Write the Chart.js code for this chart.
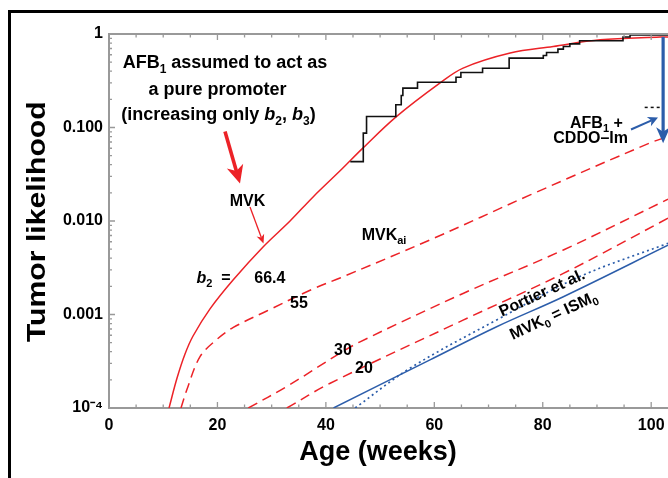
<!DOCTYPE html>
<html><head><meta charset="utf-8">
<script src="https://cdn.jsdelivr.net/npm/chart.js@4.4.1/dist/chart.umd.min.js"></script>
<style>
html,body{margin:0;padding:0;background:#fff;overflow:hidden;}
#wrap{position:relative;width:668px;height:478px;overflow:hidden;}
#frame{position:absolute;left:8px;top:10px;width:720px;height:520px;border-left:3px solid #000;border-top:3px solid #000;pointer-events:none;}
canvas{position:absolute;left:0;top:0;}
</style></head><body>
<div id="wrap"><canvas id="c" width="668" height="478" style="width:668px;height:478px"></canvas><div id="frame"></div></div>
<script>
const FONT = '"Liberation Sans", Arial, Helvetica, sans-serif';
const RED = '#ec2227';
const BLUE = '#2c5daa';

// axis ticks
const xTickValues = [0, 20, 40, 60, 80, 100];
const xTickLabels = ['0', '20', '40', '60', '80', '100'];
const yTickValues = [1e-4, 1e-3, 1e-2, 1e-1, 1];
const yTickLabels = ['10\u207B\u2074', '0.001', '0.010', '0.100', '1'];
const X_MIN = 0, X_MAX = 103.1;

// observed tumor incidence (step curve)
const kmAge  = [44.5, 46.9, 47.5, 52.9, 53.9, 54.2, 56.9, 64.0, 64.9, 68.9, 73.8, 80.1, 80.7, 82.8, 83.8, 85.0, 86.8, 94.8, 96.1, 103.1];
const kmRisk = [0.0432, 0.0871, 0.131, 0.175, 0.220, 0.264, 0.305, 0.345, 0.387, 0.431, 0.552, 0.589, 0.634, 0.689, 0.735, 0.785, 0.846, 0.93, 0.975, 0.975];

// MVK, b2 = 66.4 (solid red)
const mvkAge  = [11.07, 12.55, 14.02, 15.5, 18.63, 22.88, 28.41, 33.39, 37.64, 42.62, 46.86, 52.95, 61.07, 65.31, 73.99, 81.92, 90.59, 101.66, 103.1];
const mvkRisk = [1.0e-4, 2.09e-4, 3.78e-4, 5.89e-4, 1.15e-3, 2.34e-3, 5.28e-3, 0.0100, 0.0181, 0.0344, 0.0605, 0.130, 0.300, 0.432, 0.625, 0.735, 0.867, 0.927, 0.93];

// MVK_ai, b2 = 55 (dashed red)
const b55Age  = [13.28, 14.34, 16.79, 19.87, 22.93, 29.1, 37.64, 42.62, 59.23, 77.68, 99.8, 103.1];
const b55Risk = [1.0e-4, 1.56e-4, 3.54e-4, 5.41e-4, 7.27e-4, 1.09e-3, 1.88e-3, 2.46e-3, 6.28e-3, 0.019, 0.0685, 0.080];

// b2 = 30 (dashed red)
const b30Age  = [25.7, 32.8, 42.6, 46.3, 65.4, 83.8, 103.1];
const b30Risk = [1.0e-4, 1.7e-4, 3.85e-4, 5.1e-4, 1.69e-3, 4.9e-3, 0.0171];

// b2 = 20 (dashed red)
const b20Age  = [32.8, 40.8, 65.3, 83.8, 103.1];
const b20Risk = [1.0e-4, 1.84e-4, 8.7e-4, 2.75e-3, 0.0107];

// MVK0 = ISM0 (solid blue)
const mvk0Age  = [41.4, 59.2, 71.5, 83.8, 103.1];
const mvk0Risk = [1.0e-4, 3.27e-4, 7.4e-4, 1.55e-3, 5.5e-3];

// Portier et al. (dotted blue)
const portAge  = [45.4, 55.5, 71.5, 86.8, 103.1];
const portRisk = [1.0e-4, 2.66e-4, 8.75e-4, 2.54e-3, 5.78e-3];

// AFB1 + CDDO-Im level (dotted black) and drop arrow
const cddoAge  = [98.8, 102.2];
const cddoRisk = [0.164, 0.164];
const dropAge = 102.2, dropFrom = 0.93, dropTo = 0.068;

const pts = (xs, ys) => xs.map((x, i) => ({x: x, y: ys[i]}));

function rich(ctx, segs, x, y, fs, align) {
  const fontOf = s => `${s.i ? 'italic ' : ''}bold ${s.s ? Math.round(fs * 0.68) : fs}px ${FONT}`;
  let w = 0;
  segs.forEach(s => { ctx.font = fontOf(s); s.w = ctx.measureText(s.t).width; w += s.w; });
  let cx = align === 'center' ? x - w / 2 : (align === 'right' ? x - w : x);
  ctx.textAlign = 'left'; ctx.textBaseline = 'alphabetic';
  segs.forEach(s => { ctx.font = fontOf(s); ctx.fillText(s.t, cx, y + (s.s ? fs * 0.25 : 0)); cx += s.w; });
}

function arrow(ctx, x1, y1, x2, y2, color, lw, hl, hw) {
  const a = Math.atan2(y2 - y1, x2 - x1);
  ctx.save();
  ctx.strokeStyle = color; ctx.fillStyle = color; ctx.lineWidth = lw; ctx.lineCap = 'butt';
  ctx.beginPath(); ctx.moveTo(x1, y1);
  ctx.lineTo(x2 - Math.cos(a) * hl * 0.7, y2 - Math.sin(a) * hl * 0.7); ctx.stroke();
  ctx.translate(x2, y2); ctx.rotate(a);
  ctx.beginPath(); ctx.moveTo(0, 0); ctx.lineTo(-hl, hw); ctx.lineTo(-hl * 0.72, 0); ctx.lineTo(-hl, -hw); ctx.closePath(); ctx.fill();
  ctx.restore();
}

const deco = {
  id: 'deco',
  afterDraw(chart) {
    const ctx = chart.ctx, xs = chart.scales.x, ys = chart.scales.y, ca = chart.chartArea;
    ctx.save();
    // top axis line
    ctx.strokeStyle = '#999'; ctx.lineWidth = 2;
    ctx.beginPath(); ctx.moveTo(ca.left - 1, ca.top); ctx.lineTo(ca.right, ca.top); ctx.stroke();
    // inner ticks
    ctx.lineWidth = 1.3;
    ctx.beginPath();
    for (let d = -4; d <= 0; d++) {
      for (let m = 1; m <= 9; m++) {
        const v = m * Math.pow(10, d);
        if (v > 1.0000001) break;
        const p = ys.getPixelForValue(v);
        const L = m === 1 ? 6 : 3;
        ctx.moveTo(ca.left, p); ctx.lineTo(ca.left + L, p);
      }
    }
    for (let t = 5; t <= X_MAX; t += 5) {
      const p = xs.getPixelForValue(t);
      const L = t % 20 === 0 ? 6 : 3.5;
      ctx.moveTo(p, ca.bottom); ctx.lineTo(p, ca.bottom - L);
      ctx.moveTo(p, ca.top); ctx.lineTo(p, ca.top + L);
    }
    ctx.stroke();

    // drop arrow (AFB1 + CDDO-Im)
    const ax = xs.getPixelForValue(dropAge);
    arrow(ctx, ax, ys.getPixelForValue(dropFrom), ax, ys.getPixelForValue(dropTo), BLUE, 3.2, 16, 7);

    // annotation arrows
    arrow(ctx, 225, 131.5, 240, 183.5, RED, 3.6, 18, 8.5);
    arrow(ctx, 250, 207, 263.5, 243.5, RED, 1.3, 9, 4);
    arrow(ctx, 631, 129.5, 658, 117.5, BLUE, 2, 10, 5);

    // texts
    ctx.fillStyle = '#000';
    rich(ctx, [{t: 'AFB'}, {t: '1', s: 1}, {t: ' assumed to act as'}], 225, 68, 18, 'center');
    rich(ctx, [{t: 'a pure promoter'}], 217.5, 94.5, 18, 'center');
    rich(ctx, [{t: '(increasing only '}, {t: 'b', i: 1}, {t: '2', s: 1}, {t: ', '}, {t: 'b', i: 1}, {t: '3', s: 1}, {t: ')'}], 218.5, 120, 18, 'center');
    rich(ctx, [{t: 'MVK'}], 247.5, 206, 16, 'center');
    rich(ctx, [{t: 'b', i: 1}, {t: '2', s: 1}, {t: '  ='}], 196.5, 282.5, 16, 'left');
    rich(ctx, [{t: '66.4'}], 254.3, 282.5, 16, 'left');
    rich(ctx, [{t: '55'}], 290, 308.3, 16, 'left');
    rich(ctx, [{t: '30'}], 334, 355, 16, 'left');
    rich(ctx, [{t: '20'}], 355, 373.3, 16, 'left');
    rich(ctx, [{t: 'MVK'}, {t: 'ai', s: 1}], 361.7, 240, 16, 'left');
    rich(ctx, [{t: 'AFB'}, {t: '1', s: 1}, {t: ' +'}], 570, 128.3, 16, 'left');
    rich(ctx, [{t: 'CDDO\u2013Im'}], 553.3, 143.3, 16, 'left');

    ctx.save(); ctx.translate(541.7, 292.5); ctx.rotate(-24.7 * Math.PI / 180);
    rich(ctx, [{t: 'Portier et al.'}], 0, 5.5, 16, 'center'); ctx.restore();
    ctx.save(); ctx.translate(553.3, 315); ctx.rotate(-25 * Math.PI / 180);
    rich(ctx, [{t: 'MVK'}, {t: '0', s: 1}, {t: ' = ISM'}, {t: '0', s: 1}], 0, 5.5, 16, 'center'); ctx.restore();

    // axis titles
    ctx.save(); ctx.translate(45, 221.7); ctx.rotate(-Math.PI / 2); ctx.scale(1.16, 1);
    ctx.font = `bold 26px ${FONT}`; ctx.textAlign = 'center'; ctx.textBaseline = 'alphabetic';
    ctx.fillText('Tumor likelihood', 0, 0); ctx.restore();
    ctx.font = `bold 27px ${FONT}`; ctx.textAlign = 'center'; ctx.textBaseline = 'alphabetic';
    ctx.fillText('Age (weeks)', 378, 460);
    ctx.restore();
  }
};

const line = (data, color, extra) => Object.assign({
  data: data, borderColor: color, backgroundColor: color, borderWidth: 1.5,
  pointRadius: 0, fill: false, tension: 0.35, cubicInterpolationMode: 'default'
}, extra || {});

const chart = new Chart(document.getElementById('c'), {
  type: 'line',
  data: {
    datasets: [
      line(pts(portAge, portRisk), BLUE, {borderDash: [2, 3.2], borderWidth: 1.7}),
      line(pts(mvk0Age, mvk0Risk), BLUE, {borderWidth: 1.5}),
      line(pts(b20Age, b20Risk), RED, {borderDash: [10, 6]}),
      line(pts(b30Age, b30Risk), RED, {borderDash: [10, 6]}),
      line(pts(b55Age, b55Risk), RED, {borderDash: [10, 6]}),
      line(pts(kmAge, kmRisk), '#111', {stepped: 'before', tension: 0, borderWidth: 1.6}),
      line(pts(cddoAge, cddoRisk), '#111', {tension: 0, borderDash: [3, 3], borderWidth: 1.5}),
      line(pts(mvkAge, mvkRisk), RED, {borderWidth: 1.5})
    ]
  },
  options: {
    responsive: false, animation: false, devicePixelRatio: 1,
    layout: {padding: {left: 0, right: 0, top: 34, bottom: 0}},
    plugins: {legend: {display: false}, tooltip: {enabled: false}},
    scales: {
      x: {
        type: 'linear', min: X_MIN, max: X_MAX,
        afterFit: s => { s.height = 70; s.paddingRight = 0; s.paddingLeft = 0; },
        afterBuildTicks: s => { s.ticks = xTickValues.map(v => ({value: v})); },
        grid: {display: false, drawTicks: false},
        border: {display: true, color: '#999', width: 2},
        ticks: {padding: 8, color: '#000', font: {family: FONT, size: 16, weight: 'bold'}, maxRotation: 0,
                callback: (v, i) => xTickLabels[i]}
      },
      y: {
        type: 'logarithmic', min: 1e-4, max: 1,
        afterFit: s => { s.width = 109; },
        afterBuildTicks: s => { s.ticks = yTickValues.map(v => ({value: v})); },
        grid: {display: false, drawTicks: false},
        border: {display: true, color: '#999', width: 2},
        ticks: {padding: 6, color: '#000', font: {family: FONT, size: 16, weight: 'bold'},
                callback: (v, i) => yTickLabels[i]}
      }
    }
  },
  plugins: [deco]
});
</script>
</body></html>
